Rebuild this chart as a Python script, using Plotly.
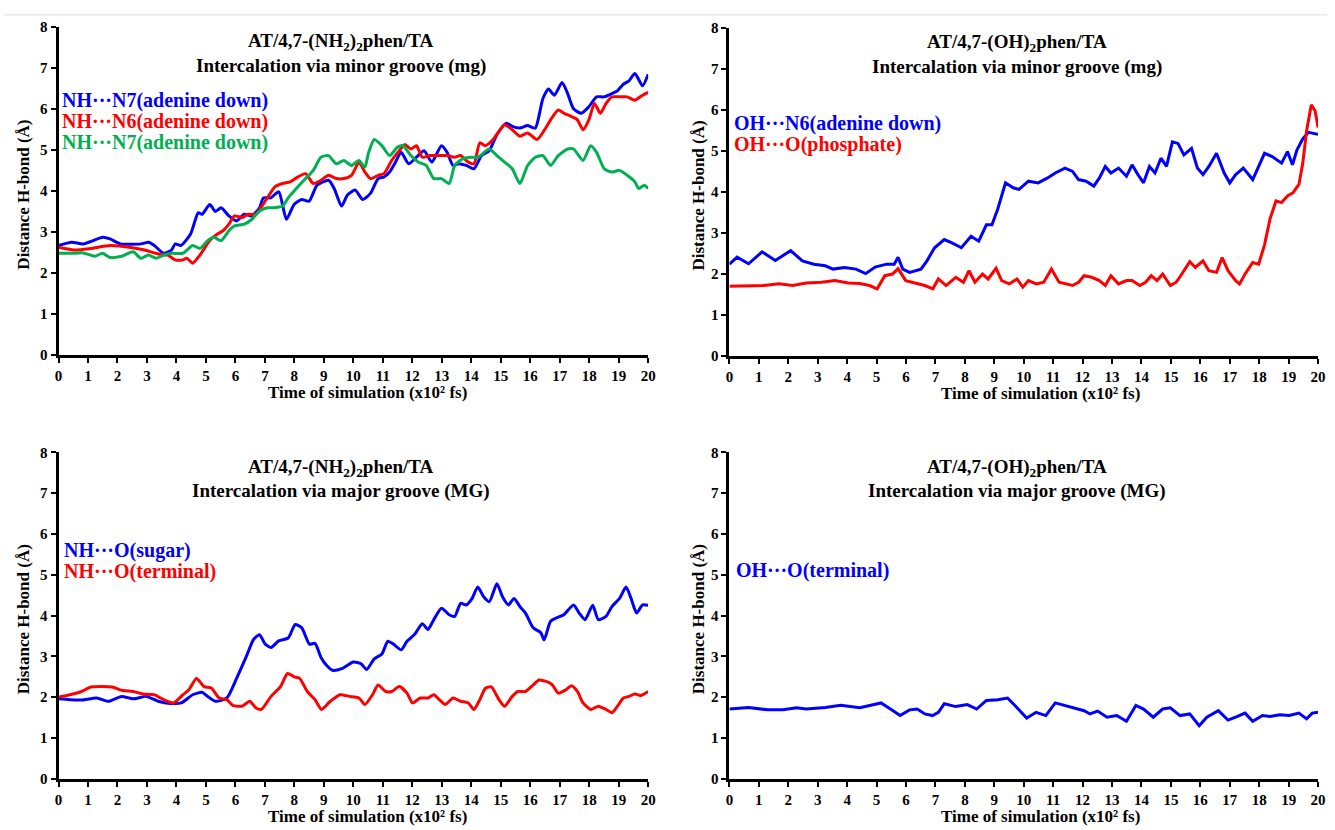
import plotly.graph_objects as go

# ---------------- data (time in x10^2 fs, distance in Å) ----------------
# Panel A: AT/4,7-(NH2)2phen/TA, minor groove
a_nh_n7_blue = [(0,2.67),(0.45,2.75),(0.84,2.71),(1.5,2.87),(1.75,2.83),(2.1,2.71),(2.8,2.71),(3.05,2.75),(3.25,2.67),(3.57,2.48),(3.83,2.56),(3.96,2.71),(4.15,2.67),(4.48,2.95),(4.74,3.47),(4.87,3.43),(5.13,3.67),(5.32,3.5),(5.52,3.59),(5.78,3.39),(6.04,3.27),(6.3,3.43),(6.56,3.39),(6.82,3.59),(6.95,3.83),(7.2,3.83),(7.47,3.98),(7.73,3.31),(7.99,3.67),(8.25,3.79),(8.5,3.75),(8.77,4.14),(9.16,4.26),(9.35,4.06),(9.6,3.63),(9.8,3.9),(10.06,4.02),(10.32,3.79),(10.58,3.94),(10.84,4.3),(11.04,4.34),(11.23,4.46),(11.43,4.7),(11.62,4.94),(11.88,4.66),(12.14,4.82),(12.4,4.98),(12.66,4.7),(12.99,5.1),(13.18,4.94),(13.38,4.62),(13.57,4.66),(13.83,4.62),(14.09,4.54),(14.35,4.86),(14.61,4.98),(14.87,5.37),(15.19,5.65),(15.39,5.57),(15.65,5.53),(15.91,5.59),(16.17,5.53),(16.43,6.25),(16.62,6.48),(16.82,6.33),(17.08,6.64),(17.27,6.37),(17.47,6.0),(17.73,5.89),(17.99,6.05),(18.25,6.29),(18.51,6.29),(18.77,6.37),(18.96,6.44),(19.16,6.6),(19.35,6.68),(19.55,6.86),(19.81,6.56),(20,6.84)]
a_nh_n6_red = [(0,2.63),(0.58,2.56),(1.1,2.6),(1.75,2.67),(2.4,2.63),(2.92,2.56),(3.3,2.48),(3.57,2.44),(3.7,2.44),(3.96,2.32),(4.22,2.32),(4.35,2.36),(4.55,2.24),(4.8,2.44),(5.13,2.79),(5.39,2.95),(5.58,3.03),(5.78,3.19),(5.97,3.39),(6.23,3.35),(6.43,3.43),(6.69,3.43),(7.08,3.83),(7.34,4.1),(7.6,4.18),(7.86,4.22),(8.12,4.34),(8.38,4.42),(8.64,4.18),(8.9,4.26),(9.16,4.38),(9.42,4.3),(9.68,4.3),(9.94,4.38),(10.19,4.7),(10.39,4.46),(10.58,4.3),(10.84,4.38),(11.04,4.42),(11.3,4.74),(11.56,4.98),(11.75,5.13),(11.95,5.02),(12.14,5.1),(12.34,4.82),(12.6,4.86),(12.92,4.86),(13.18,4.86),(13.44,4.82),(13.64,4.86),(13.9,4.7),(14.09,4.66),(14.29,5.17),(14.48,5.1),(14.74,5.25),(14.94,5.45),(15.13,5.61),(15.39,5.49),(15.65,5.33),(15.91,5.41),(16.23,5.25),(16.49,5.49),(16.69,5.73),(16.95,5.97),(17.14,5.89),(17.4,5.81),(17.6,5.73),(17.79,5.49),(17.99,5.73),(18.18,6.13),(18.38,5.89),(18.57,6.13),(18.77,6.29),(19.03,6.29),(19.29,6.29),(19.55,6.21),(19.81,6.33),(20,6.4)]
a_nh_n7_green = [(0,2.48),(0.45,2.48),(0.84,2.49),(1.23,2.41),(1.49,2.48),(1.75,2.38),(2.14,2.41),(2.53,2.52),(2.79,2.36),(3.05,2.44),(3.31,2.36),(3.57,2.44),(3.83,2.48),(4.22,2.48),(4.55,2.67),(4.8,2.6),(5.06,2.79),(5.26,2.87),(5.52,2.79),(5.78,3.03),(5.97,3.15),(6.3,3.19),(6.56,3.31),(6.82,3.51),(7.08,3.59),(7.34,3.59),(7.6,3.63),(7.79,3.83),(8.12,4.1),(8.38,4.3),(8.64,4.5),(8.9,4.82),(9.16,4.86),(9.42,4.66),(9.68,4.74),(9.94,4.62),(10.19,4.74),(10.39,4.58),(10.52,4.94),(10.71,5.25),(10.97,5.1),(11.23,4.86),(11.49,5.06),(11.69,5.1),(11.95,4.86),(12.21,4.7),(12.47,4.62),(12.73,4.3),(12.99,4.3),(13.25,4.18),(13.44,4.62),(13.7,4.78),(13.96,4.82),(14.22,4.82),(14.61,5.02),(14.87,4.86),(15.13,4.7),(15.39,4.54),(15.65,4.18),(15.91,4.62),(16.17,4.82),(16.43,4.86),(16.69,4.62),(16.95,4.86),(17.27,5.02),(17.47,5.02),(17.79,4.74),(18.05,5.1),(18.25,4.94),(18.51,4.54),(18.77,4.46),(19.03,4.5),(19.29,4.38),(19.55,4.22),(19.68,4.06),(19.87,4.14),(20,4.06)]

# Panel B: AT/4,7-(OH)2phen/TA, minor groove
b_oh_n6_blue = [(0,2.24),(0.26,2.41),(0.65,2.25),(1.11,2.54),(1.56,2.33),(2.08,2.57),(2.48,2.32),(2.87,2.24),(3.26,2.2),(3.52,2.12),(3.91,2.16),(4.3,2.12),(4.63,2.01),(4.95,2.17),(5.34,2.24),(5.6,2.24),(5.73,2.41),(5.89,2.12),(6.12,2.04),(6.51,2.12),(6.71,2.32),(6.97,2.64),(7.3,2.84),(7.56,2.76),(7.88,2.64),(8.21,2.92),(8.47,2.8),(8.73,3.2),(8.92,3.2),(9.12,3.59),(9.38,4.22),(9.64,4.1),(9.84,4.06),(10.16,4.26),(10.49,4.22),(10.81,4.34),(11.07,4.46),(11.4,4.58),(11.66,4.5),(11.86,4.3),(12.12,4.26),(12.38,4.14),(12.57,4.34),(12.77,4.62),(12.96,4.46),(13.22,4.58),(13.49,4.38),(13.68,4.66),(13.88,4.42),(14.07,4.22),(14.27,4.62),(14.46,4.46),(14.66,4.82),(14.85,4.62),(15.05,5.22),(15.24,5.18),(15.44,4.9),(15.7,5.06),(15.9,4.58),(16.09,4.42),(16.29,4.62),(16.55,4.94),(16.81,4.46),(17.0,4.22),(17.2,4.42),(17.46,4.58),(17.78,4.3),(17.98,4.62),(18.18,4.94),(18.44,4.86),(18.76,4.7),(18.96,4.98),(19.13,4.66),(19.28,5.02),(19.48,5.29),(19.67,5.45),(20,5.4)]
b_oh_o_red = [(0,1.7),(0.65,1.71),(1.17,1.72),(1.69,1.76),(2.15,1.72),(2.61,1.78),(3.13,1.8),(3.58,1.84),(4.04,1.78),(4.43,1.77),(4.76,1.72),(5.02,1.64),(5.28,1.96),(5.54,2.0),(5.73,2.13),(5.99,1.84),(6.38,1.76),(6.64,1.72),(6.91,1.64),(7.1,1.88),(7.36,1.72),(7.69,1.92),(7.95,1.8),(8.14,2.08),(8.34,1.8),(8.6,2.0),(8.79,1.88),(9.06,2.14),(9.25,1.84),(9.51,1.76),(9.77,1.88),(9.97,1.68),(10.16,1.84),(10.42,1.76),(10.68,1.8),(10.94,2.12),(11.2,1.8),(11.47,1.76),(11.66,1.72),(11.86,1.8),(12.05,1.96),(12.31,1.92),(12.57,1.84),(12.77,1.72),(12.96,1.96),(13.22,1.76),(13.49,1.84),(13.68,1.84),(13.94,1.72),(14.14,1.8),(14.33,1.96),(14.53,1.84),(14.72,2.0),(14.98,1.72),(15.18,1.8),(15.37,2.0),(15.64,2.3),(15.83,2.16),(16.09,2.32),(16.29,2.08),(16.55,2.04),(16.74,2.4),(16.94,2.08),(17.2,1.84),(17.33,1.76),(17.52,2.0),(17.78,2.28),(17.98,2.24),(18.18,2.71),(18.37,3.35),(18.57,3.78),(18.76,3.74),(18.96,3.9),(19.15,3.98),(19.35,4.18),(19.48,4.7),(19.61,5.49),(19.77,6.12),(19.9,5.97),(20,5.57)]

# Panel C: AT/4,7-(NH2)2phen/TA, major groove
c_nh_o_sugar_blue = [(0,1.96),(0.39,1.94),(0.78,1.93),(1.3,1.98),(1.69,1.9),(2.14,2.02),(2.53,1.96),(2.99,2.02),(3.38,1.9),(3.64,1.86),(4.16,1.86),(4.55,2.06),(4.87,2.12),(5.06,2.02),(5.32,1.9),(5.71,1.98),(6.04,2.46),(6.36,2.98),(6.62,3.42),(6.82,3.53),(7.01,3.3),(7.21,3.22),(7.47,3.38),(7.79,3.45),(8.03,3.78),(8.25,3.7),(8.51,3.3),(8.7,3.32),(8.9,2.98),(9.09,2.78),(9.29,2.66),(9.61,2.7),(10.0,2.86),(10.26,2.82),(10.45,2.68),(10.71,2.94),(10.97,3.06),(11.17,3.37),(11.36,3.3),(11.62,3.16),(11.82,3.37),(12.08,3.54),(12.34,3.8),(12.53,3.66),(12.73,3.9),(12.99,4.18),(13.25,4.02),(13.44,3.98),(13.64,4.3),(13.83,4.26),(14.03,4.42),(14.22,4.7),(14.42,4.46),(14.61,4.34),(14.87,4.78),(15.06,4.46),(15.26,4.26),(15.45,4.42),(15.65,4.22),(15.84,4.06),(16.1,3.7),(16.36,3.58),(16.47,3.4),(16.69,3.86),(16.88,3.94),(17.14,4.02),(17.47,4.26),(17.66,4.06),(17.86,3.9),(18.12,4.25),(18.31,3.9),(18.57,3.98),(18.77,4.22),(19.03,4.42),(19.25,4.7),(19.42,4.42),(19.61,4.06),(19.81,4.26),(20,4.25)]
c_nh_o_term_red = [(0,2.0),(0.39,2.06),(0.78,2.14),(1.1,2.25),(1.82,2.25),(2.14,2.17),(2.53,2.14),(2.86,2.08),(3.25,2.06),(3.57,1.94),(3.9,1.86),(4.22,2.06),(4.42,2.18),(4.68,2.46),(4.94,2.26),(5.19,2.22),(5.45,1.98),(5.71,1.94),(5.91,1.8),(6.23,1.78),(6.49,1.9),(6.69,1.74),(6.88,1.7),(7.21,2.02),(7.53,2.26),(7.77,2.58),(7.99,2.5),(8.18,2.46),(8.44,2.14),(8.7,1.94),(8.92,1.7),(9.22,1.9),(9.55,2.06),(9.87,2.02),(10.19,1.98),(10.39,1.82),(10.65,2.06),(10.84,2.3),(11.1,2.14),(11.3,2.14),(11.56,2.26),(11.82,2.1),(12.01,1.86),(12.27,1.98),(12.53,1.98),(12.73,2.06),(12.92,1.94),(13.12,1.82),(13.38,1.98),(13.64,1.9),(13.9,1.86),(14.09,1.7),(14.29,1.94),(14.48,2.22),(14.68,2.25),(14.94,1.94),(15.13,1.78),(15.39,2.02),(15.58,2.14),(15.84,2.14),(16.1,2.3),(16.3,2.42),(16.56,2.38),(16.75,2.3),(16.95,2.1),(17.21,2.18),(17.4,2.28),(17.6,2.14),(17.79,1.86),(18.05,1.7),(18.31,1.78),(18.57,1.7),(18.77,1.62),(18.96,1.78),(19.16,1.98),(19.35,2.02),(19.55,2.08),(19.74,2.04),(20,2.14)]

# Panel D: AT/4,7-(OH)2phen/TA, major groove
d_oh_o_term_blue = [(0,1.71),(0.65,1.75),(1.3,1.69),(1.82,1.69),(2.28,1.74),(2.61,1.71),(3.26,1.75),(3.78,1.8),(4.43,1.74),(4.82,1.8),(5.15,1.86),(5.47,1.71),(5.8,1.55),(6.12,1.69),(6.38,1.71),(6.64,1.59),(6.9,1.55),(7.1,1.63),(7.3,1.84),(7.69,1.77),(8.08,1.82),(8.4,1.71),(8.73,1.92),(9.12,1.94),(9.45,1.98),(9.71,1.79),(9.9,1.63),(10.1,1.49),(10.42,1.63),(10.75,1.55),(11.07,1.86),(11.4,1.8),(11.73,1.74),(12.05,1.67),(12.25,1.59),(12.51,1.66),(12.83,1.51),(13.16,1.55),(13.49,1.41),(13.81,1.8),(14.07,1.71),(14.4,1.51),(14.72,1.71),(14.98,1.74),(15.31,1.55),(15.64,1.59),(15.96,1.3),(16.22,1.51),(16.61,1.67),(16.94,1.44),(17.2,1.51),(17.52,1.61),(17.78,1.41),(18.11,1.55),(18.37,1.53),(18.7,1.57),(19.02,1.55),(19.35,1.61),(19.61,1.47),(19.8,1.61),(20,1.63)]

x_ticks = list(range(0, 21))
y_ticks = list(range(0, 9))

panel_title_l1 = [
    "AT/4,7-(NH<sub>2</sub>)<sub>2</sub>phen/TA",
    "AT/4,7-(OH)<sub>2</sub>phen/TA",
    "AT/4,7-(NH<sub>2</sub>)<sub>2</sub>phen/TA",
    "AT/4,7-(OH)<sub>2</sub>phen/TA",
]
panel_title_l2 = [
    "Intercalation via minor groove (mg)",
    "Intercalation via minor groove (mg)",
    "Intercalation via major groove (MG)",
    "Intercalation via major groove (MG)",
]
x_title = "Time of simulation (x10² fs)"
y_title = "Distance H-bond (Å)"

BLUE = "#0000FF"
RED = "#FF0000"
GREEN = "#00B050"

panels = [
    [("NH···N7(adenine down)", a_nh_n7_blue, BLUE),
     ("NH···N6(adenine down)", a_nh_n6_red, RED),
     ("NH···N7(adenine down)", a_nh_n7_green, GREEN)],
    [("OH···N6(adenine down)", b_oh_n6_blue, BLUE),
     ("OH···O(phosphate)", b_oh_o_red, RED)],
    [("NH···O(sugar)", c_nh_o_sugar_blue, BLUE),
     ("NH···O(terminal)", c_nh_o_term_red, RED)],
    [("OH···O(terminal)", d_oh_o_term_blue, BLUE)],
]
smooth_panel = [True, False, True, False]

# ---------------- layout geometry ----------------
W, H = 1335, 830
FONT = "Liberation Serif"
px = lambda v: v / W
py = lambda v: 1 - v / H

# pixel boxes: (left, right, top, bottom)
boxes = [(55, 650, 19, 354), (732, 1326, 20, 355),
         (55, 650, 453, 786), (732, 1326, 453, 786)]
title_cx = [340, 1022, 340, 1022]
xtitle_cx = [367, 1046, 367, 1046]
ytitle_x = [20, 701, 20, 701]
legend_x = [57, 735, 59, 737]
legend_y0 = [94, 118, 553, 574]
legend_dy = 21.5

fig = go.Figure()
annotations = []
for i, (series, box) in enumerate(zip(panels, boxes)):
    n = "" if i == 0 else str(i + 1)
    l, r, t, b = box
    for name, pts, col in series:
        xs = [p[0] for p in pts]
        ys = [p[1] for p in pts]
        line = dict(color=col, width=3)
        if smooth_panel[i]:
            line.update(shape="spline", smoothing=0.6)
        fig.add_trace(go.Scatter(x=xs, y=ys, mode="lines", name=name, line=line,
                                 xaxis="x" + n, yaxis="y" + n, showlegend=False))
    axcommon = dict(showline=True, linecolor="black", linewidth=3, ticks="outside",
                    ticklen=5, tickwidth=2, tickcolor="black", showgrid=False,
                    zeroline=False, fixedrange=True,
                    tickfont=dict(family=FONT, size=15, color="black", weight="bold"))
    fig.update_layout(**{
        "xaxis" + n: dict(domain=[px(l), px(r)], range=[0, 20], tickvals=x_ticks,
                          anchor="y" + n, **axcommon),
        "yaxis" + n: dict(domain=[py(b), py(t)], range=[0, 8], tickvals=y_ticks,
                          anchor="x" + n, **axcommon),
    })
    # panel title (two separately placed lines)
    for txt, dy in ((panel_title_l1[i], 16), (panel_title_l2[i], 40)):
        annotations.append(dict(text=txt, x=px(title_cx[i]), y=py(t + dy),
                                xref="paper", yref="paper", xanchor="center", yanchor="middle",
                                showarrow=False,
                                font=dict(family=FONT, size=19, color="black", weight="bold")))
    # x title
    annotations.append(dict(text=x_title, x=px(xtitle_cx[i]), y=py(b + 38.5),
                            xref="paper", yref="paper", xanchor="center", yanchor="middle",
                            showarrow=False,
                            font=dict(family=FONT, size=17, color="black", weight="bold")))
    # y title
    annotations.append(dict(text=y_title, x=px(ytitle_x[i]), y=py((t + b) / 2 + 4),
                            xref="paper", yref="paper", xanchor="center", yanchor="middle",
                            textangle=-90, showarrow=False,
                            font=dict(family=FONT, size=17, color="black", weight="bold")))
    # inline legend labels
    for k, (name, pts, col) in enumerate(series):
        annotations.append(dict(text=name, x=px(legend_x[i]), y=py(legend_y0[i] + k * legend_dy),
                                xref="paper", yref="paper", xanchor="left", yanchor="middle",
                                showarrow=False,
                                font=dict(family=FONT, size=20, color=col, weight="bold")))

fig.update_layout(
    width=W, height=H, margin=dict(l=0, r=0, t=0, b=0),
    paper_bgcolor="white", plot_bgcolor="white",
    annotations=annotations,
    shapes=[dict(type="line", xref="paper", yref="paper", x0=0, x1=1,
                 y0=py(7), y1=py(7), line=dict(color="#dddddd", width=1))],
)

fig.write_html("out.html", config={"displayModeBar": False},
               post_script="document.body.style.margin='0';document.body.style.overflow='hidden';")
